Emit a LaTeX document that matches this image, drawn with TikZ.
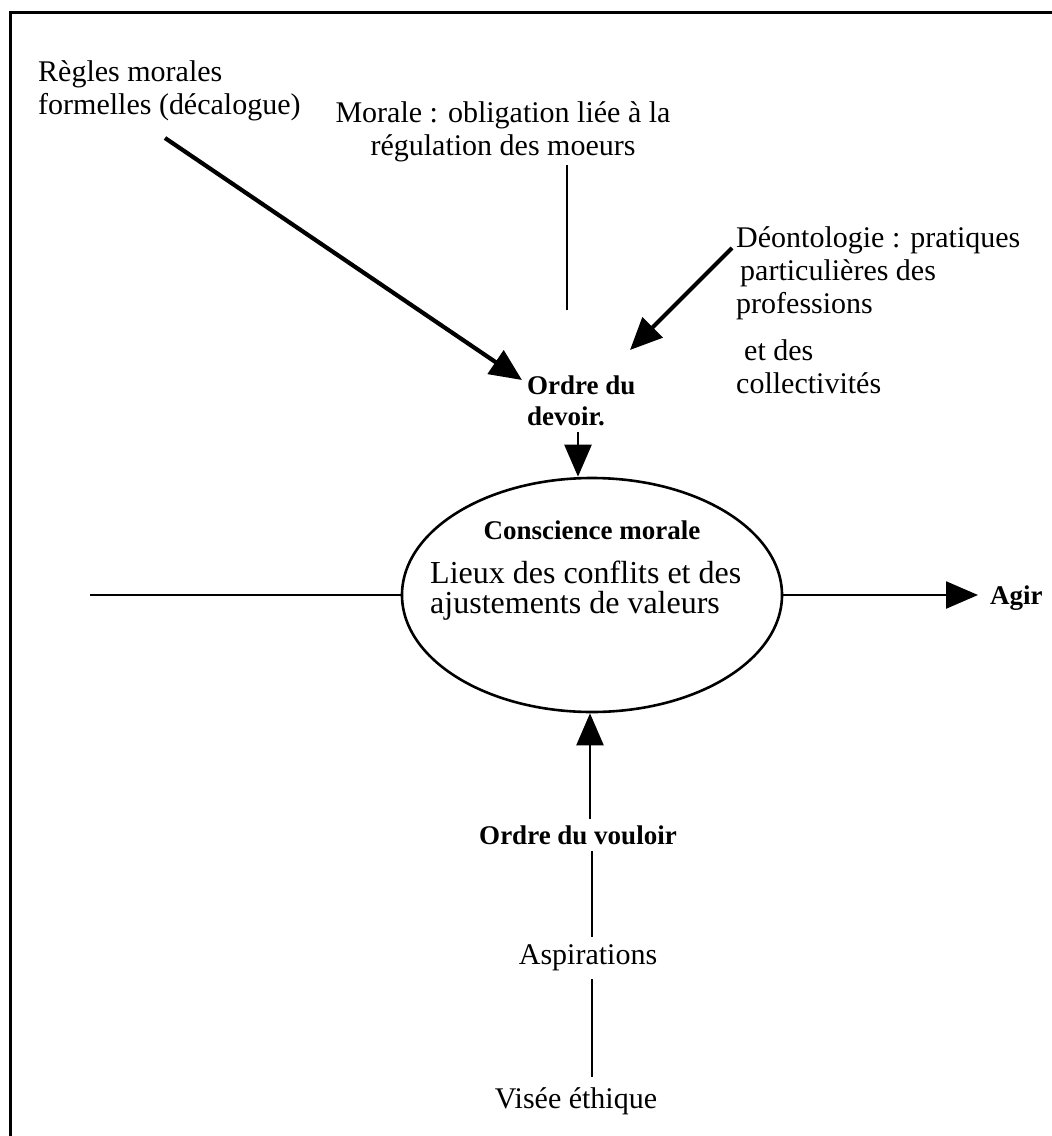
\documentclass[tikz,border=0pt]{standalone}
\usepackage{fontspec}
\setmainfont{Liberation Serif}
\usetikzlibrary{arrows.meta,shapes.geometric}
\begin{document}
\begin{tikzpicture}[x=1pt,y=-1pt,
  txt/.style={font=\fontsize{30}{33}\selectfont, inner sep=0pt, align=left},
  bold/.style={font=\fontsize{27}{31}\selectfont\bfseries, inner sep=0pt, align=left},
  heavy/.style={line width=4.2pt, -{Triangle[length=32pt,width=28pt]}},
  plain/.style={line width=2.4pt},
  thinarrow/.style={line width=2.4pt, -{Triangle[length=32pt,width=27pt]}}]
\useasboundingbox (0,0) rectangle (1052,1136);

% frame (top and left edges only)
\draw[line width=3pt] (10,1136) -- (10,12) -- (1052,12);

% text blocks
\node[txt, anchor=west] (regles) at (38,91) {Règles morales\\formelles (décalogue)};
\node[txt, align=center] (morale) at (503,132) {Morale : obligation liée à la\\régulation des moeurs};
\node[txt, anchor=north west] (deonto) at (736,226)
  {Déontologie : pratiques\\\hspace{4pt}particulières des\\professions\\[14pt]\hspace{8pt}et des\\collectivités};
\node[bold, anchor=west] (devoir) at (527,401) {Ordre du\\devoir.};

% central ellipse
\node[draw, ellipse, line width=2.6pt, minimum width=380pt, minimum height=234pt, inner sep=0pt] (cons) at (592,595) {};
\node[bold] (constitle) at (592,530) {Conscience morale};
\node[txt, anchor=west, align=left, font=\fontsize{32}{33}\selectfont] (lieux) at (430,591) {Lieux des conflits et des\\[-3pt]ajustements de valeurs};

\node[bold, anchor=west] (agir) at (990,598) {Agir};
\node[bold, inner sep=6pt] (vouloir) at (578,835) {Ordre du vouloir};
\node[txt, inner sep=8pt] (aspi) at (588,958) {Aspirations};
\node[txt, inner sep=10pt] (visee) at (576,1101) {Visée éthique};

% free ends of the connectors
\coordinate (reglesEnd) at (165,138);
\coordinate (reglesTip) at (522,380);
\coordinate (moraleTop) at (567,165);
\coordinate (moraleBot) at (567,310);
\coordinate (deontoEnd) at (732,248);
\coordinate (deontoTip) at (630,350);
\coordinate (leftEnd) at (90,595);
\coordinate (axisUp) at (590,0);
\coordinate (axisLow) at (592,0);

% connectors
\draw[heavy] (reglesEnd) -- (reglesTip);
\draw[plain] (moraleTop) -- (moraleBot);
\draw[heavy] (deontoEnd) -- (deontoTip);
\draw[thinarrow] ([yshift=-6pt]devoir.south -| 578,0) -- (578,0 |- cons.north);
\draw[plain] (leftEnd) -- (cons.west);
\draw[thinarrow, shorten >=12pt] (cons.east) -- (cons.east -| agir.west);
\draw[thinarrow] (vouloir.north -| axisUp) -- (axisUp |- cons.south);
\draw[plain] (vouloir.south -| axisLow) -- (axisLow |- aspi.north);
\draw[plain] (aspi.south -| axisLow) -- (axisLow |- visee.north);
\end{tikzpicture}
\end{document}
